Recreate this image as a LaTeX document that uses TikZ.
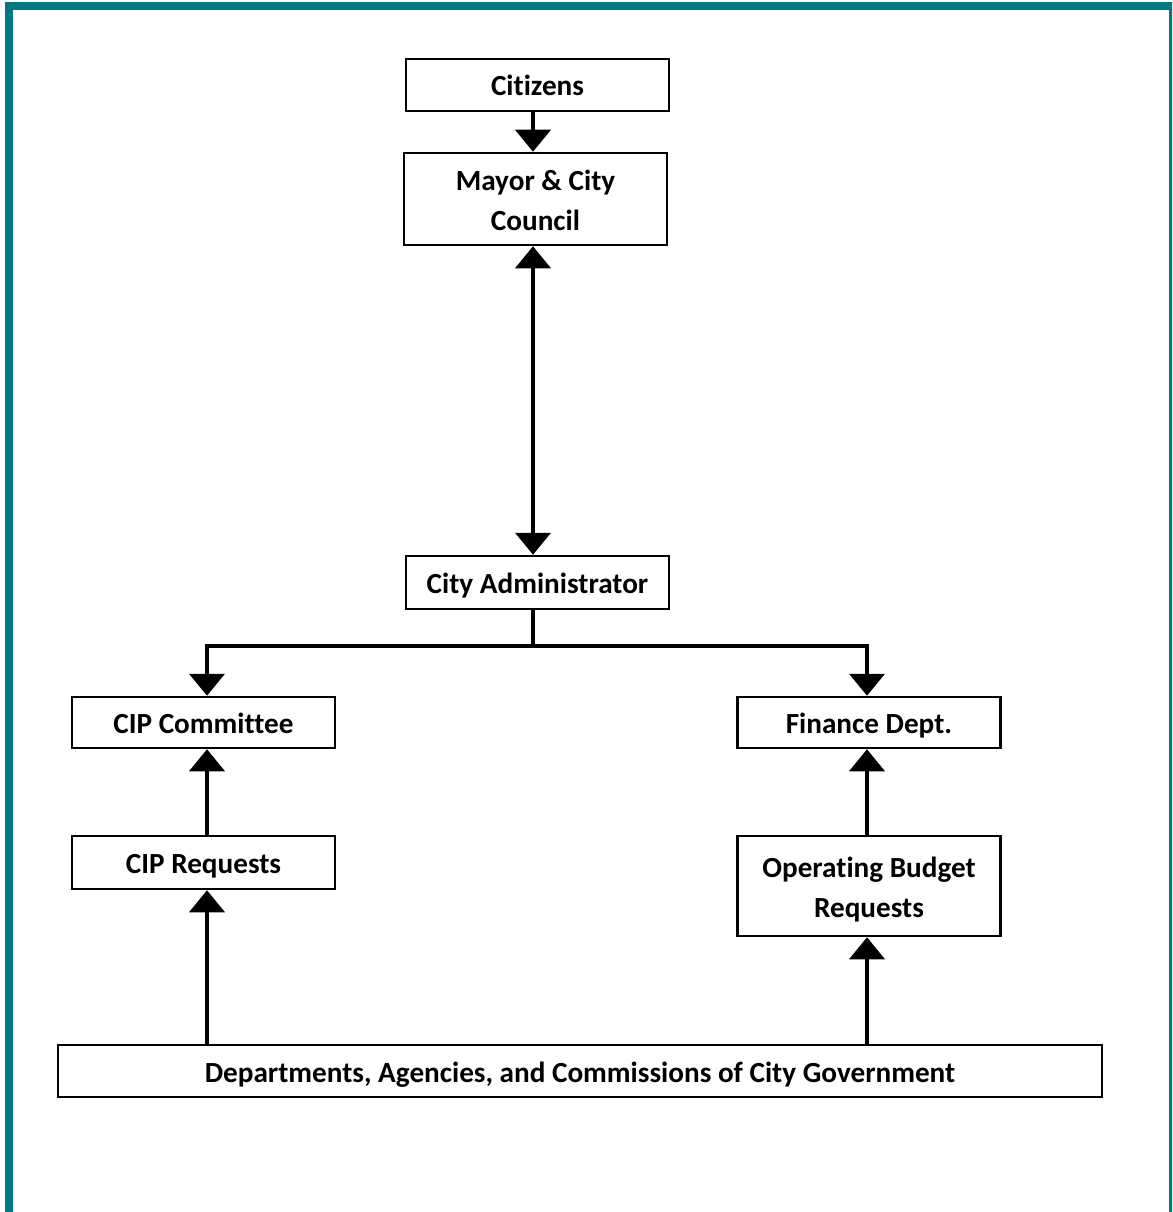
\documentclass[tikz,border=0pt]{standalone}
\usepackage{fontspec}
\setmainfont{Carlito}[Ligatures=NoCommon]
\usetikzlibrary{arrows.meta}
\definecolor{frameteal}{RGB}{0,122,128}
\begin{document}
\begin{tikzpicture}[x=1pt,y=-1pt,
  box/.style={draw=black, line width=2.5pt, inner sep=0pt, align=center,
    font=\fontsize{29.2}{40}\selectfont\bfseries, minimum width=263pt,
    text height=22pt, text depth=0pt},
  twoline/.style={text height=62pt, text depth=0pt},
  conn/.style={line width=4pt, line join=miter},
  tipend/.style={-{Triangle[width=35pt,length=22pt]}},
  tipboth/.style={{Triangle[width=35pt,length=22pt]}-{Triangle[width=35pt,length=22pt]}}]
\useasboundingbox (0,0) rectangle (1172,1212);
\begin{scope}
\clip (0,0) rectangle (1172,1212);
\draw[frameteal, line width=8.5pt] (9,1240) -- (9,6) -- (1173,6) -- (1173,1240);
\end{scope}

\node[box, minimum height=52pt] (citizens) at (537.5,85) {Citizens};
\node[box, twoline, minimum height=92pt] (mayor) at (535.5,199) {Mayor \& City\\Council};
\node[box, minimum height=53pt] (admin) at (537.5,582.5) {City Administrator};
\node[box, minimum height=51pt] (cipc) at (203.5,722.5) {CIP Committee};
\node[box, minimum height=51pt] (fin) at (869,722.5) {Finance Dept.};
\node[box, minimum height=53pt] (cipr) at (203.5,862.5) {CIP Requests};
\node[box, twoline, minimum height=100pt] (opr) at (869,886) {Operating Budget\\Requests};
\node[box, minimum width=1044pt, minimum height=52pt] (dept) at (580,1071) {Departments, Agencies, and Commissions of City Government};

\coordinate (sp) at (533,0);
\coordinate (lx) at (207,0);
\coordinate (rx) at (867,0);
\coordinate (hy) at (0,646);

\draw[conn, tipend] (sp |- citizens.south) -- (sp |- mayor.north);
\draw[conn, tipboth] (sp |- mayor.south) -- (sp |- admin.north);
\draw[conn] (sp |- admin.south) -- (sp |- hy);
\draw[conn, tipend] (sp |- hy) -- (lx |- hy) -- (lx |- cipc.north);
\draw[conn, tipend] (sp |- hy) -- (rx |- hy) -- (rx |- fin.north);
\draw[conn, tipend] (lx |- cipr.north) -- (lx |- cipc.south);
\draw[conn, tipend] (lx |- dept.north) -- (lx |- cipr.south);
\draw[conn, tipend] (rx |- opr.north) -- (rx |- fin.south);
\draw[conn, tipend] (rx |- dept.north) -- (rx |- opr.south);
\end{tikzpicture}
\end{document}
